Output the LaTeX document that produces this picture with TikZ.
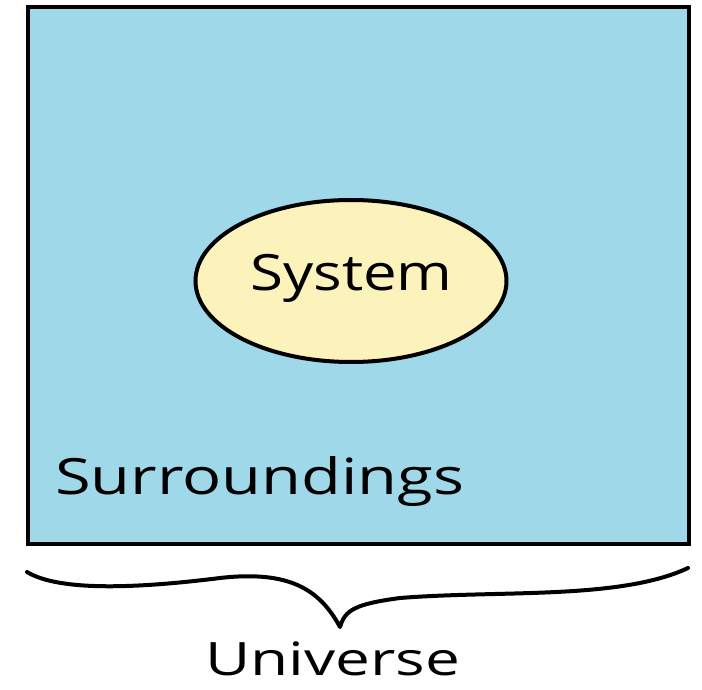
\documentclass[tikz,border=0pt]{standalone}
\usepackage{fontspec}
\setmainfont{Open Sans}
\usetikzlibrary{shapes.geometric}
\definecolor{skyblue}{RGB}{158,216,233}
\definecolor{paleyellow}{RGB}{252,242,187}
\tikzset{
  outline/.style={draw=black, line width=4pt},
  handtext/.style={inner sep=0pt, anchor=base west, font=\fontsize{50}{60}\selectfont},
}
\begin{document}
\begin{tikzpicture}[x=1pt,y=-1pt]
\useasboundingbox (0,0) rectangle (702,690);
\node[outline, fill=skyblue, minimum width=661pt, minimum height=536pt, inner sep=0pt, anchor=north west] (universe) at (25.5,5.5) {};
\node[outline, fill=paleyellow, ellipse, minimum width=311pt, minimum height=162pt, inner sep=0pt] (system) at (351,281) {};
\node[handtext] (systemlabel) at (250,290) {\scalebox{1.2}[1]{System}};
\node[handtext] (surr) at (55,494) {\scalebox{1.3}[1]{Surroundings}};
\coordinate (bl) at (27,572);
\coordinate (tip) at (340,627);
\coordinate (br) at (688,568);
\draw[line width=4pt, line cap=round, line join=round]
  (bl) .. controls (60,592) and (140,588) .. (220,578)
  .. controls (290,570) and (320,590) .. (tip)
  .. controls (345,610) and (355,604) .. (400,598)
  .. controls (500,590) and (620,600) .. (br);
\node[handtext, text depth=0pt, font=\fontsize{46}{55}\selectfont] (univ) at (205,675) {\scalebox{1.35}[1]{Universe}};
\end{tikzpicture}
\end{document}
